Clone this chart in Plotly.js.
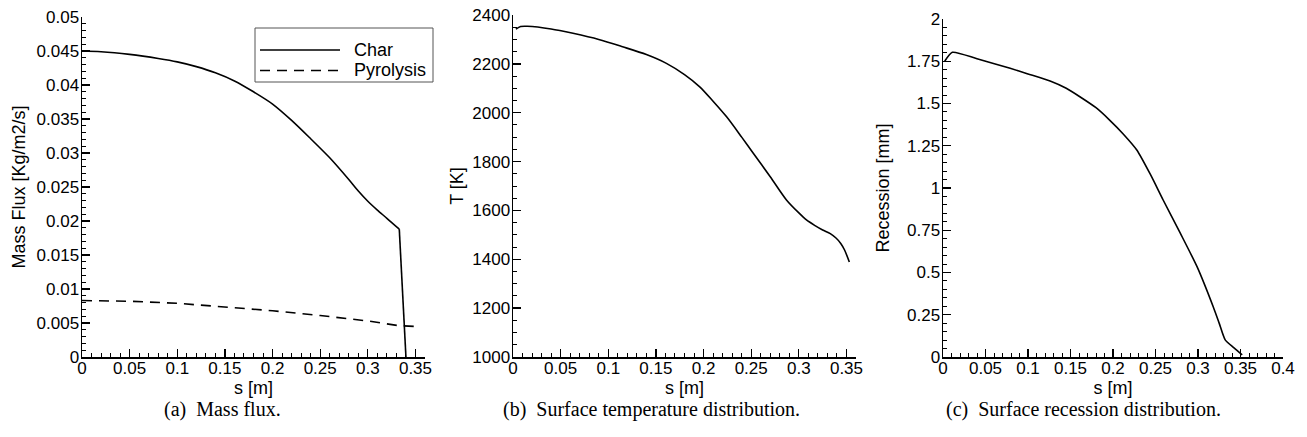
<!DOCTYPE html>
<html>
<head>
<meta charset="utf-8">
<script src="https://cdn.plot.ly/plotly-3.0.1.min.js"></script>
<style>html,body{margin:0;padding:0;background:#fff}#chart{width:1307px;height:437px}</style>
</head>
<body>
<div id="chart"></div>
<script>
// ---- Data ----
// (a) Mass flux
const charS = [0, 0.02, 0.05, 0.08, 0.10, 0.12, 0.14, 0.16, 0.18, 0.20, 0.22, 0.24, 0.26, 0.28, 0.29, 0.30, 0.31, 0.32, 0.333, 0.340];
const charFlux = [0.0450, 0.0449, 0.0445, 0.0439, 0.0434, 0.0427, 0.0418, 0.0406, 0.0390, 0.0372, 0.0348, 0.0321, 0.0293, 0.0261, 0.0244, 0.0229, 0.0216, 0.0204, 0.0188, 0.0];
const pyroS = [0, 0.05, 0.10, 0.15, 0.20, 0.25, 0.30, 0.333, 0.349];
const pyroFlux = [0.0083, 0.0082, 0.0079, 0.0074, 0.0068, 0.0061, 0.0053, 0.0046, 0.0045];
// (b) Surface temperature
const tempS = [0.003, 0.008, 0.015, 0.04, 0.063, 0.09, 0.115, 0.14, 0.161, 0.18, 0.196, 0.21, 0.224, 0.24, 0.252, 0.27, 0.287, 0.30, 0.308, 0.317, 0.325, 0.333, 0.339, 0.344, 0.348, 0.353];
const tempK = [2342, 2353, 2354, 2343, 2325, 2300, 2270, 2238, 2202, 2156, 2106, 2047, 1984, 1900, 1835, 1738, 1643, 1590, 1561, 1538, 1520, 1505, 1487, 1465, 1438, 1389];
// (c) Surface recession
const recS = [0.002, 0.011, 0.04, 0.079, 0.10, 0.126, 0.145, 0.161, 0.18, 0.196, 0.212, 0.228, 0.244, 0.259, 0.279, 0.299, 0.318, 0.325, 0.332, 0.342, 0.352];
const recMM = [1.75, 1.803, 1.765, 1.708, 1.675, 1.633, 1.59, 1.540, 1.475, 1.402, 1.32, 1.225, 1.08, 0.929, 0.734, 0.533, 0.296, 0.199, 0.101, 0.055, 0.012];

// Tick labels
const sTicks36 = [0, 0.05, 0.1, 0.15, 0.2, 0.25, 0.3, 0.35];
const sTickText36 = ['0', '0.05', '0.1', '0.15', '0.2', '0.25', '0.3', '0.35'];
const sTicks40 = [0, 0.05, 0.1, 0.15, 0.2, 0.25, 0.3, 0.35, 0.4];
const sTickText40 = ['0', '0.05', '0.1', '0.15', '0.2', '0.25', '0.3', '0.35', '0.4'];
const fluxTicks = [0, 0.005, 0.01, 0.015, 0.02, 0.025, 0.03, 0.035, 0.04, 0.045, 0.05];
const fluxTickText = ['0', '0.005', '0.01', '0.015', '0.02', '0.025', '0.03', '0.035', '0.04', '0.045', '0.05'];
const tempTicks = [1000, 1200, 1400, 1600, 1800, 2000, 2200, 2400];
const tempTickText = ['1000', '1200', '1400', '1600', '1800', '2000', '2200', '2400'];
const recTicks = [0, 0.25, 0.5, 0.75, 1, 1.25, 1.5, 1.75, 2];
const recTickText = ['0', '0.25', '0.5', '0.75', '1', '1.25', '1.5', '1.75', '2'];

const seriesNames = ['Char', 'Pyrolysis'];
const captions = ['(a)\u00a0\u00a0Mass flux.', '(b)\u00a0\u00a0Surface temperature distribution.', '(c)\u00a0\u00a0Surface recession distribution.'];
const yTitles = ['Mass Flux [Kg/m2/s]', 'T [K]', 'Recession [mm]'];
const xTitle = 's [m]';

// ---- Layout helpers ----
const W = 1307, H = 437;
const px = v => v / W;
const py = v => 1 - v / H;
const SANS = 'Liberation Sans, Arial, Helvetica, sans-serif';
const SERIF = 'Liberation Serif, Times New Roman, serif';
const tickFont = {family: SANS, size: 17, color: '#000'};
const titleFont = {family: SANS, size: 18, color: '#000'};
const captionFont = {family: SERIF, size: 20, color: '#000'};

function xAxis(dom, range, tv, tt, anchor) {
  return {
    domain: dom, range: range, anchor: anchor,
    showgrid: false, zeroline: false, showline: true, linecolor: '#000', linewidth: 1.5,
    ticks: 'inside', ticklen: 8, tickwidth: 1.3, tickcolor: '#000',
    tickvals: tv, ticktext: tt, tickfont: tickFont, ticklabelstandoff: -5,
    minor: {dtick: 0.01, tick0: 0, ticks: 'inside', ticklen: 4, tickwidth: 1, tickcolor: '#000', showgrid: false},
    title: {text: xTitle, font: titleFont, standoff: 0}
  };
}
function yAxis(dom, range, tv, tt, minorStep, anchor, title, standoff) {
  return {
    domain: dom, range: range, anchor: anchor,
    showgrid: false, zeroline: false, showline: true, linecolor: '#000', linewidth: 1.5,
    ticks: 'inside', ticklen: 8, tickwidth: 1.3, tickcolor: '#000',
    tickvals: tv, ticktext: tt, tickfont: tickFont, ticklabelstandoff: -2,
    minor: {dtick: minorStep, tick0: 0, ticks: 'inside', ticklen: 4, tickwidth: 1, tickcolor: '#000', showgrid: false},
    title: {text: title, font: titleFont, standoff: standoff}
  };
}

const smooth = {color: '#000', width: 1.6, shape: 'spline', smoothing: 0.8};
const straight = {color: '#000', width: 1.6, shape: 'linear'};

// Char: smooth body (spline) and its final, straight drop to zero
const nC = charS.length;
const traces = [
  {x: charS.slice(0, nC - 1), y: charFlux.slice(0, nC - 1), mode: 'lines', name: seriesNames[0], line: smooth, xaxis: 'x', yaxis: 'y', showlegend: false},
  {x: charS.slice(nC - 2), y: charFlux.slice(nC - 2), mode: 'lines', name: seriesNames[0], line: straight, xaxis: 'x', yaxis: 'y', showlegend: false},
  {x: pyroS, y: pyroFlux, mode: 'lines', name: seriesNames[1], line: {color: '#000', width: 1.6, dash: '10px,7px'}, xaxis: 'x', yaxis: 'y', showlegend: false},
  {x: tempS, y: tempK, mode: 'lines', name: 'T', line: smooth, xaxis: 'x2', yaxis: 'y2', showlegend: false},
  {x: recS, y: recMM, mode: 'lines', name: 'Recession', line: {color: '#000', width: 1.6, shape: 'spline', smoothing: 0.6}, xaxis: 'x3', yaxis: 'y3', showlegend: false}
];

const yBottom = py(357);
const layout = {
  width: W, height: H,
  margin: {l: 0, r: 0, t: 0, b: 0},
  paper_bgcolor: '#fff', plot_bgcolor: 'rgba(0,0,0,0)',
  showlegend: false,
  xaxis: xAxis([px(82), px(425)], [0, 0.36], sTicks36, sTickText36, 'y'),
  yaxis: yAxis([yBottom, py(17)], [0, 0.05], fluxTicks, fluxTickText, 0.001, 'x', yTitles[0], 6),
  xaxis2: xAxis([px(513), px(856)], [0, 0.36], sTicks36, sTickText36, 'y2'),
  yaxis2: yAxis([yBottom, py(15)], [1000, 2400], tempTicks, tempTickText, 50, 'x2', yTitles[1], 4),
  xaxis3: xAxis([px(943), px(1283)], [0, 0.4], sTicks40, sTickText40, 'y3'),
  yaxis3: yAxis([yBottom, py(19)], [0, 2], recTicks, recTickText, 0.05, 'x3', yTitles[2], 12),
  shapes: [
    {type: 'rect', xref: 'paper', yref: 'paper', x0: px(255), x1: px(433), y0: py(82), y1: py(28), line: {color: '#555', width: 1}, fillcolor: '#fff', layer: 'above'},
    {type: 'line', xref: 'paper', yref: 'paper', x0: px(260), x1: px(340), y0: py(50), y1: py(50), line: {color: '#000', width: 1.6}},
    {type: 'line', xref: 'paper', yref: 'paper', x0: px(260), x1: px(340), y0: py(70.5), y1: py(70.5), line: {color: '#000', width: 1.6, dash: '10px,7px'}}
  ],
  annotations: [
    {xref: 'paper', yref: 'paper', x: px(352), y: py(50), xanchor: 'left', yanchor: 'middle', text: seriesNames[0], showarrow: false, font: titleFont},
    {xref: 'paper', yref: 'paper', x: px(352), y: py(70.5), xanchor: 'left', yanchor: 'middle', text: seriesNames[1], showarrow: false, font: titleFont},
    {xref: 'paper', yref: 'paper', x: px(222), y: py(409), xanchor: 'center', yanchor: 'middle', text: captions[0], showarrow: false, font: captionFont},
    {xref: 'paper', yref: 'paper', x: px(651), y: py(409), xanchor: 'center', yanchor: 'middle', text: captions[1], showarrow: false, font: captionFont},
    {xref: 'paper', yref: 'paper', x: px(1083), y: py(409), xanchor: 'center', yanchor: 'middle', text: captions[2], showarrow: false, font: captionFont}
  ]
};

Plotly.newPlot('chart', traces, layout, {staticPlot: true, displayModeBar: false});
</script>
</body>
</html>
